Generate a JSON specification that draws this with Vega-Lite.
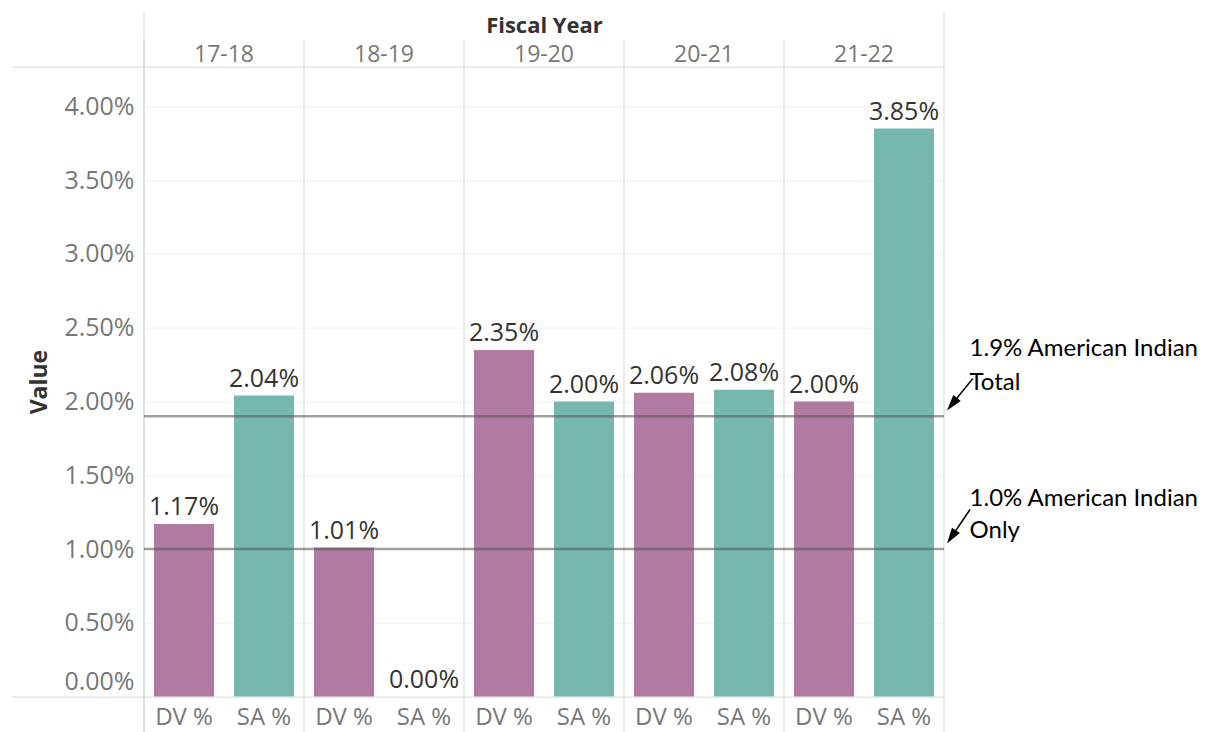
{
  "$schema": "https://vega.github.io/schema/vega-lite/v6.json",
  "padding": {"left": 11, "top": 10.6, "right": 0, "bottom": 0},
  "spacing": 0,
  "config": {"view": {"stroke": null}, "font": "Open Sans", "concat": {"spacing": 0}},
  "datasets": {
    "bars": [
      {"year": "17-18", "measure": "DV %", "value": 0.0117},
      {"year": "17-18", "measure": "SA %", "value": 0.0204},
      {"year": "18-19", "measure": "DV %", "value": 0.0101},
      {"year": "18-19", "measure": "SA %", "value": 0.0},
      {"year": "19-20", "measure": "DV %", "value": 0.0235},
      {"year": "19-20", "measure": "SA %", "value": 0.02},
      {"year": "20-21", "measure": "DV %", "value": 0.0206},
      {"year": "20-21", "measure": "SA %", "value": 0.0208},
      {"year": "21-22", "measure": "DV %", "value": 0.02},
      {"year": "21-22", "measure": "SA %", "value": 0.0385}
    ],
    "years": [{"year": "17-18"}, {"year": "18-19"}, {"year": "19-20"}, {"year": "20-21"}, {"year": "21-22"}],
    "refs": [
      {"ref": 0.019, "note": "1.9% American Indian\nTotal"},
      {"ref": 0.01, "note": "1.0% American Indian\nOnly"}
    ]
  },
  "hconcat": [
    {
      "width": 800,
      "height": 630,
      "layer": [
        {
          "data": {"name": "bars"},
          "mark": {"type": "bar"},
          "encoding": {
            "x": {
              "field": "year", "type": "nominal",
              "scale": {"paddingInner": 0, "paddingOuter": 0},
              "axis": {"orient": "top", "title": "Fiscal Year", "titleFontSize": 22, "titleFontWeight": "bold", "titleColor": "#333", "titlePadding": 6, "labelFontSize": 23, "labelColor": "#777", "labelAngle": 0, "ticks": false, "domain": false, "grid": false, "labelPadding": 0}
            },
            "xOffset": {"field": "measure", "type": "nominal", "scale": {"paddingInner": 0.25, "paddingOuter": 0.125}},
            "y": {
              "field": "value", "type": "quantitative",
              "scale": {"domain": [0, 0.0427], "nice": false, "zero": false},
              "axis": {
                "values": [0, 0.005, 0.01, 0.015, 0.02, 0.025, 0.03, 0.035, 0.04, 0.0427],
                "format": ".2%",
                "labelExpr": "datum.value > 0.041 ? '' : datum.label",
                "title": "Value", "titleFontSize": 23, "titleFontWeight": "bold", "titleColor": "#333", "titlePadding": 3,
                "labelFontSize": 25, "labelColor": "#777",
                "tickSize": 132, "labelPadding": -122,
                "tickColor": {"condition": {"test": "datum.value == 0 || datum.value > 0.041", "value": "#d6d6d6"}, "value": "transparent"},
                "gridColor": {"condition": {"test": "datum.value == 0 || datum.value > 0.041", "value": "#d6d6d6"}, "value": "#f0f0f0"},
                "labelOffset": {"condition": {"test": "datum.value == 0", "value": -15}, "value": 0},
                "domain": false, "grid": true,
                "maxExtent": 90, "minExtent": 90
              }
            },
            "color": {"field": "measure", "type": "nominal", "scale": {"domain": ["DV %", "SA %"], "range": ["#b07aa1", "#76b7b2"]}, "legend": null}
          }
        },
        {
          "data": {"name": "years"},
          "mark": {"type": "rule", "color": "#d6d6d6", "strokeWidth": 1},
          "encoding": {
            "x": {"field": "year", "type": "nominal", "bandPosition": 0},
            "y": {"datum": -0.0024},
            "y2": {"datum": 0.04455}
          }
        },
        {
          "data": {"name": "years"},
          "transform": [{"filter": "datum.year == '17-18'"}],
          "mark": {"type": "rule", "color": "#d6d6d6", "strokeWidth": 1},
          "encoding": {
            "x": {"field": "year", "type": "nominal", "bandPosition": 0},
            "y": {"datum": -0.0024},
            "y2": {"datum": 0.0464}
          }
        },
        {
          "data": {"name": "years"},
          "transform": [{"filter": "datum.year == '21-22'"}],
          "mark": {"type": "rule", "color": "#d6d6d6", "strokeWidth": 1},
          "encoding": {
            "x": {"field": "year", "type": "nominal", "bandPosition": 1},
            "y": {"datum": -0.0024},
            "y2": {"datum": 0.0464}
          }
        },
        {
          "data": {"name": "bars"},
          "mark": {"type": "text", "dy": -9, "baseline": "alphabetic", "fontSize": 25, "color": "#333"},
          "encoding": {
            "x": {"field": "year", "type": "nominal"},
            "xOffset": {"field": "measure", "type": "nominal"},
            "y": {"field": "value", "type": "quantitative"},
            "text": {"field": "value", "type": "quantitative", "format": ".2%"}
          }
        },
        {
          "data": {"name": "bars"},
          "mark": {"type": "text", "dy": 21, "baseline": "middle", "fontSize": 24, "color": "#777"},
          "encoding": {
            "x": {"field": "year", "type": "nominal"},
            "xOffset": {"field": "measure", "type": "nominal"},
            "y": {"datum": 0},
            "text": {"field": "measure"}
          }
        },
        {
          "data": {"name": "refs"},
          "mark": {"type": "rule", "color": "#555", "opacity": 0.55, "strokeWidth": 2.5},
          "encoding": {"y": {"field": "ref", "type": "quantitative"}}
        }
      ]
    },
    {
      "width": 268,
      "height": 630,
      "data": {"name": "refs"},
      "layer": [
        {
          "transform": [{"filter": "datum.ref > 0.015"}],
          "mark": {"type": "text", "font": "Lato", "align": "left", "baseline": "middle", "lineBreak": "\n", "lineHeight": 34, "fontSize": 24, "color": "#000", "dy": -67.75},
          "encoding": {
            "x": {"datum": 0.088, "type": "quantitative", "scale": {"domain": [0, 1]}, "axis": null},
            "y": {"field": "ref", "type": "quantitative", "scale": {"domain": [0, 0.0427], "nice": false, "zero": false}, "axis": null},
            "text": {"field": "note"}
          }
        },
        {
          "transform": [{"filter": "datum.ref < 0.015"}],
          "mark": {"type": "text", "font": "Lato", "align": "left", "baseline": "middle", "lineBreak": "\n", "lineHeight": 32, "fontSize": 24, "color": "#000", "dy": -50.5},
          "encoding": {
            "x": {"datum": 0.088, "type": "quantitative", "axis": null},
            "y": {"field": "ref", "type": "quantitative", "axis": null},
            "text": {"field": "note"}
          }
        },
        {
          "transform": [{"filter": "datum.ref > 0.015"}],
          "mark": {"type": "rule", "color": "#000", "strokeWidth": 1.5},
          "encoding": {
            "x": {"datum": 0.1, "type": "quantitative", "axis": null},
            "y": {"datum": 0.02156, "type": "quantitative", "axis": null},
            "x2": {"datum": 0.0224},
            "y2": {"datum": 0.01981}
          }
        },
        {
          "transform": [{"filter": "datum.ref > 0.015"}],
          "mark": {"type": "point", "shape": "M0,-1L0.6,1L-0.6,1Z", "filled": true, "size": 256, "angle": 219, "color": "#000", "opacity": 1},
          "encoding": {
            "x": {"datum": 0.0224, "type": "quantitative", "axis": null},
            "y": {"datum": 0.01981, "type": "quantitative", "axis": null}
          }
        },
        {
          "transform": [{"filter": "datum.ref < 0.015"}],
          "mark": {"type": "rule", "color": "#000", "strokeWidth": 1.5},
          "encoding": {
            "x": {"datum": 0.0896, "type": "quantitative", "axis": null},
            "y": {"datum": 0.01268, "type": "quantitative", "axis": null},
            "x2": {"datum": 0.0205},
            "y2": {"datum": 0.01082}
          }
        },
        {
          "transform": [{"filter": "datum.ref < 0.015"}],
          "mark": {"type": "point", "shape": "M0,-1L0.6,1L-0.6,1Z", "filled": true, "size": 256, "angle": 214, "color": "#000", "opacity": 1},
          "encoding": {
            "x": {"datum": 0.0205, "type": "quantitative", "axis": null},
            "y": {"datum": 0.01082, "type": "quantitative", "axis": null}
          }
        }
      ]
    }
  ]
}
